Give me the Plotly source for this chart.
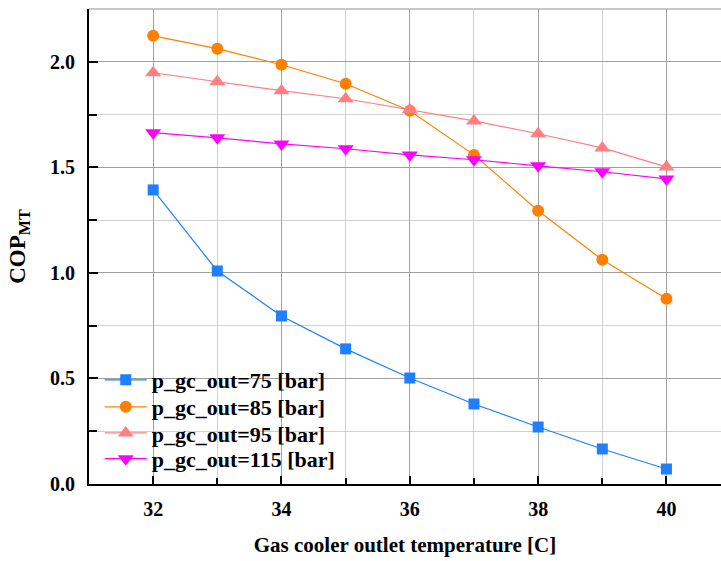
import plotly.graph_objects as go

temps = [32, 33, 34, 35, 36, 37, 38, 39, 40]
cop_75 = [1.393, 1.009, 0.796, 0.640, 0.502, 0.379, 0.270, 0.166, 0.071]
cop_85 = [2.123, 2.062, 1.986, 1.896, 1.768, 1.559, 1.294, 1.062, 0.877]
cop_95 = [1.948, 1.905, 1.863, 1.825, 1.773, 1.720, 1.659, 1.592, 1.502]
cop_115 = [1.664, 1.640, 1.611, 1.588, 1.559, 1.536, 1.507, 1.479, 1.445]

series = [
    ("p_gc_out=75 [bar]", cop_75, "#1E7FFF", "square", 11),
    ("p_gc_out=85 [bar]", cop_85, "#FF8000", "circle", 12),
    ("p_gc_out=95 [bar]", cop_95, "#FF8080", "triangle-up", 14),
    ("p_gc_out=115 [bar]", cop_115, "#FF00FF", "triangle-down", 14),
]
legend_rows_y = [0.219, 0.162, 0.107, 0.053]

font_family = "Liberation Serif, Times New Roman, serif"

fig = go.Figure()
legend_layout = {}
for i, (name, vals, color, sym, size) in enumerate(series):
    lg = "legend" if i == 0 else "legend%d" % (i + 1)
    fig.add_trace(go.Scatter(
        x=temps, y=vals, mode="lines+markers", name="<b>" + name + "</b>",
        line=dict(color=color, width=1.2),
        marker=dict(symbol=sym, size=size, color=color, line=dict(width=0)),
        legend=lg,
    ))
    legend_layout[lg] = dict(
        x=0.017, y=legend_rows_y[i], xanchor="left", yanchor="middle",
        bgcolor="rgba(0,0,0,0)", borderwidth=0,
        font=dict(family=font_family, size=22, color="black"),
        itemsizing="trace", itemwidth=42,
    )

fig.update_layout(
    width=721, height=561,
    margin=dict(l=89, r=0, t=9, b=77),
    plot_bgcolor="white", paper_bgcolor="white",
    font=dict(family=font_family, color="black", size=20),
    showlegend=True,
    xaxis=dict(
        range=[31, 40.85], tickmode="array", tickvals=[32, 34, 36, 38, 40],
        ticktext=["<b>32</b>", "<b>34</b>", "<b>36</b>", "<b>38</b>", "<b>40</b>"],
        showgrid=True, gridcolor="#a0a0a0", gridwidth=1.3,
        minor=dict(dtick=1, showgrid=True, gridcolor="#d0d0d0", gridwidth=1.3,
                   ticks="inside", ticklen=6, tickcolor="black", tickwidth=1.5),
        ticks="inside", ticklen=8, tickwidth=1.5, tickcolor="black",
        showline=True, linecolor="black", linewidth=2, mirror=False,
        zeroline=False, ticklabelstandoff=6,
        title=dict(text="<b>Gas cooler outlet temperature [C]</b>",
                   font=dict(size=21, family=font_family), standoff=18),
        tickfont=dict(size=20, family=font_family),
    ),
    yaxis=dict(
        range=[0, 2.25], tickmode="array", tickvals=[0, 0.5, 1.0, 1.5, 2.0],
        ticktext=["<b>0.0</b>", "<b>0.5</b>", "<b>1.0</b>", "<b>1.5</b>", "<b>2.0</b>"],
        showgrid=True, gridcolor="#a0a0a0", gridwidth=1.3,
        minor=dict(dtick=0.25, showgrid=True, gridcolor="#d0d0d0", gridwidth=1.3,
                   ticks="inside", ticklen=8, tickcolor="black", tickwidth=1.5),
        ticks="inside", ticklen=9, tickwidth=1.5, tickcolor="black",
        showline=True, linecolor="black", linewidth=2, mirror=False,
        zeroline=False, ticklabelstandoff=8,
        title=dict(text="<b>COP<sub>MT</sub></b>",
                   font=dict(size=23, family=font_family), standoff=18),
        tickfont=dict(size=20, family=font_family),
    ),
    **legend_layout,
)

# light gray frame on the top side
fig.add_shape(type="line", xref="paper", yref="paper", x0=0, x1=1, y0=1, y1=1,
              line=dict(color="#c8c8c8", width=2), layer="below")
# white legend background box (covers grid, below traces)
fig.add_shape(type="rect", xref="paper", yref="paper", x0=0.0174, x1=0.413,
              y0=0.0126, y1=0.2547, fillcolor="white", line=dict(width=0),
              layer="between")

fig.write_html("out.html")
